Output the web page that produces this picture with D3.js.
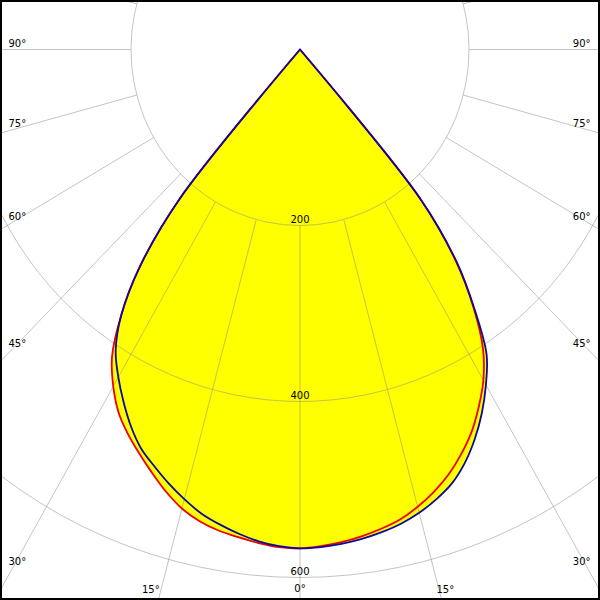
<!DOCTYPE html>
<html>
<head>
<meta charset="utf-8">
<script src="https://cdn.jsdelivr.net/npm/d3@7"></script>
<style>
  html, body { margin: 0; padding: 0; background: #fff; }
  svg { display: block; }
  text { font-family: "DejaVu Sans", sans-serif; font-size: 10px; fill: #000; }
</style>
</head>
<body>
<svg id="chart" width="600" height="600"></svg>
<script>
// ---- data ----
const gammaAngles = [0, 2.5, 5, 7.5, 10, 12.5, 15, 17.5, 20, 22.5, 25, 27.5, 30, 32.5, 35, 37.5, 40, 42.5];
// C180 / C0 plane (red)
const redLeft  = [567, 566, 563, 559, 555, 549, 540, 527, 512, 497, 482, 465, 442, 414, 369, 312, 222, 0];
const redRight = [567, 565, 562, 558, 553, 547, 538, 527, 514, 498, 480, 458, 434, 403, 358, 303, 222, 0];
// C270 / C90 plane (blue)
const blueLeft  = [567, 565, 561, 555, 548, 540, 529, 517, 504, 491, 473, 452, 430, 406, 369, 312, 222, 0];
const blueRight = [567, 566, 564, 561, 557, 552, 545, 536, 525, 509, 489, 466, 440, 411, 360, 305, 222, 0];

const radialTicks = [200, 400, 600];
const radialTickLabels = ["200", "400", "600"];
const angleTicks = [90, 75, 60, 45, 30, 15, 0];
const angleTickLabels = ["90°", "75°", "60°", "45°", "30°", "15°", "0°"];

// ---- scales ----
const W = 600, H = 600;
const x = d3.scaleLinear().domain([-200, 200]).range([131, 469]);
const y = d3.scaleLinear().domain([0, 600]).range([49.5, 577.5]);
const rad = d => d * Math.PI / 180;
const pt = (deg, r, side) => [x(side * r * Math.sin(rad(deg))), y(r * Math.cos(rad(deg)))];

const svg = d3.select("#chart");
svg.append("rect").attr("width", W).attr("height", H).attr("fill", "#fff");

const g = svg.append("g");

// curve geometry
function curvePoints(left, right) {
  const pts = [];
  for (let i = gammaAngles.length - 1; i >= 0; i--) pts.push(pt(gammaAngles[i], left[i], -1));
  for (let i = 1; i < gammaAngles.length; i++) pts.push(pt(gammaAngles[i], right[i], 1));
  return pts;
}
const line = d3.line().curve(d3.curveCatmullRom.alpha(0.5));
const redPts = curvePoints(redLeft, redRight);
const bluePts = curvePoints(blueLeft, blueRight);

// yellow fill (union)
g.append("path").attr("d", line(redPts) + "Z").attr("fill", "#ffff00").attr("stroke", "none");
g.append("path").attr("d", line(bluePts) + "Z").attr("fill", "#ffff00").attr("stroke", "none");

// grid
const grid = g.append("g").attr("stroke", "#8a8a8a").attr("stroke-opacity", 0.5).attr("fill", "none").attr("stroke-width", 1);
radialTicks.forEach(r => {
  grid.append("ellipse")
    .attr("cx", x(0)).attr("cy", y(0))
    .attr("rx", x(r) - x(0)).attr("ry", y(r) - y(0));
});
d3.range(-180, 180, 15).forEach(a => {
  const side = a < 0 ? -1 : 1;
  const p0 = pt(Math.abs(a), radialTicks[0], side);
  const p1 = pt(Math.abs(a), 1400, side);
  grid.append("line").attr("x1", p0[0]).attr("y1", p0[1]).attr("x2", p1[0]).attr("y2", p1[1]);
});

// outlines
g.append("path").attr("d", line(redPts) + "Z").attr("fill", "none")
  .attr("stroke", "#ee0000").attr("stroke-width", 1.8).attr("stroke-linejoin", "round");
g.append("path").attr("d", line(bluePts) + "Z").attr("fill", "none")
  .attr("stroke", "#0a0aa0").attr("stroke-width", 1.8).attr("stroke-linejoin", "round");

// radial value labels
radialTicks.forEach((r, i) => {
  g.append("text").attr("x", x(0)).attr("y", y(r) - 2.5)
    .attr("text-anchor", "middle").text(radialTickLabels[i]);
});

// angle labels (layout positions)
const leftPos = { 90: [8.5, 46.5], 75: [8.5, 126.5], 60: [8.5, 219.5], 45: [8.5, 346.5], 30: [8.5, 564.5], 15: [142, 592.5] };
const rightPos = { 90: [590.5, 46.5], 75: [590.5, 126.5], 60: [590.5, 219.5], 45: [590.5, 346.5], 30: [590.5, 564.5], 15: [436.5, 592.5] };
angleTicks.forEach((a, i) => {
  if (a === 0) {
    g.append("text").attr("x", x(0)).attr("y", 592).attr("text-anchor", "middle").text(angleTickLabels[i]);
    return;
  }
  const lp = leftPos[a], rp = rightPos[a];
  g.append("text").attr("x", lp[0]).attr("y", lp[1]).attr("text-anchor", "start").text(angleTickLabels[i]);
  g.append("text").attr("x", rp[0]).attr("y", rp[1]).attr("text-anchor", a === 15 ? "start" : "end").text(angleTickLabels[i]);
});

// frame
svg.append("rect").attr("x", 1).attr("y", 1).attr("width", W - 2).attr("height", H - 2)
  .attr("fill", "none").attr("stroke", "#000").attr("stroke-width", 2);
</script>
</body>
</html>
